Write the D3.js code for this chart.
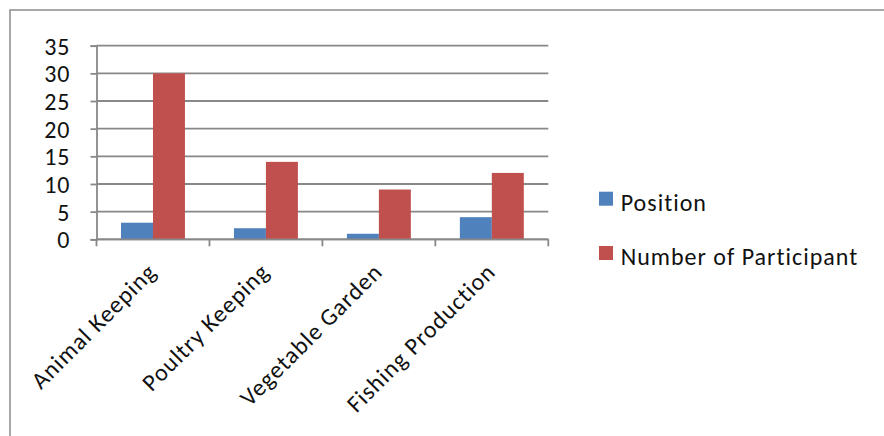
<!DOCTYPE html>
<html>
<head>
<meta charset="utf-8">
<script src="https://cdn.jsdelivr.net/npm/d3@7"></script>
<style>
  html, body { margin: 0; padding: 0; background: #fff; }
  svg { display: block; }
  text { font-family: Carlito, Lato, "Liberation Sans", sans-serif; fill: #111; letter-spacing: 1px; }
</style>
</head>
<body>
<svg id="chart" width="884" height="436"></svg>
<script>
// Activities and the two measured series
const categories = ["Animal Keeping", "Poultry Keeping", "Vegetable Garden", "Fishing Production"];
const seriesNames = ["Position", "Number of Participant"];
const position = [3, 2, 1, 4];
const participants = [30, 14, 9, 12];
const yTicks = [0, 5, 10, 15, 20, 25, 30, 35];

const colors = ["#4F81BD", "#C0504D"];
const gridColor = "#888888";
const fontSize = 24;

const svg = d3.select("#chart");

// Outer chart frame
svg.append("rect")
  .attr("x", 10).attr("y", 10)
  .attr("width", 900).attr("height", 460)
  .attr("fill", "none")
  .attr("stroke", "#8c8c8c")
  .attr("stroke-width", 1.5);

const plot = { left: 96.5, right: 548.3, top: 45.7, bottom: 239.3 };

const x = d3.scaleBand()
  .domain(categories)
  .range([plot.left, plot.right])
  .paddingInner(0.434)
  .paddingOuter(0.217);

const xInner = d3.scaleBand()
  .domain(seriesNames)
  .range([0, x.bandwidth()]);

const y = d3.scaleLinear()
  .domain([0, 35])
  .range([plot.bottom, plot.top]);

// Horizontal gridlines
svg.append("g")
  .selectAll("line")
  .data(yTicks)
  .join("line")
  .attr("x1", plot.left).attr("x2", plot.right)
  .attr("y1", d => y(d)).attr("y2", d => y(d))
  .attr("stroke", gridColor)
  .attr("stroke-width", 1.8);

// Y axis
const yAxis = svg.append("g")
  .attr("transform", `translate(${plot.left},0)`)
  .call(d3.axisLeft(y).tickValues(yTicks).tickSize(6).tickPadding(20));
yAxis.select(".domain").attr("stroke", gridColor).attr("stroke-width", 1.8);
yAxis.selectAll(".tick line").attr("stroke", gridColor).attr("stroke-width", 1.8);
yAxis.selectAll(".tick text")
  .attr("font-size", fontSize)
  .attr("font-family", null)
  .attr("fill", "#111")
  .attr("dy", "0.36em");

// Bars
const seriesData = [position, participants];
const groups = svg.append("g")
  .selectAll("g")
  .data(categories)
  .join("g")
  .attr("transform", d => `translate(${x(d)},0)`);

groups.selectAll("rect")
  .data((d, i) => seriesNames.map((s, j) => ({ s, v: seriesData[j][i], j })))
  .join("rect")
  .attr("x", d => xInner(d.s))
  .attr("width", xInner.bandwidth())
  .attr("y", d => y(d.v))
  .attr("height", d => y(0) - y(d.v))
  .attr("fill", d => colors[d.j]);

// X axis with boundary ticks between categories
const step = x.step();
const boundaries = d3.range(categories.length + 1).map(i => plot.left + i * step);
svg.append("line")
  .attr("x1", plot.left).attr("x2", plot.right)
  .attr("y1", plot.bottom).attr("y2", plot.bottom)
  .attr("stroke", gridColor).attr("stroke-width", 1.8);
svg.append("g")
  .selectAll("line")
  .data(boundaries)
  .join("line")
  .attr("x1", d => d).attr("x2", d => d)
  .attr("y1", plot.bottom).attr("y2", plot.bottom + 7)
  .attr("stroke", gridColor).attr("stroke-width", 1.8);

// Rotated category labels
svg.append("g")
  .selectAll("text")
  .data(categories)
  .join("text")
  .attr("transform", d => `translate(${x(d) + x.bandwidth() / 2 + 5},${plot.bottom + 34}) rotate(-45)`)
  .attr("text-anchor", "end")
  .attr("font-size", fontSize)
  .text(d => d);

// Legend
const legend = svg.append("g")
  .selectAll("g")
  .data(seriesNames)
  .join("g")
  .attr("transform", (d, i) => `translate(599,${191.7 + i * 54.3})`);
legend.append("rect")
  .attr("width", 14).attr("height", 14)
  .attr("fill", (d, i) => colors[i]);
legend.append("text")
  .attr("x", 21.7).attr("y", 19)
  .attr("font-size", fontSize)
  .text(d => d);
</script>
</body>
</html>
